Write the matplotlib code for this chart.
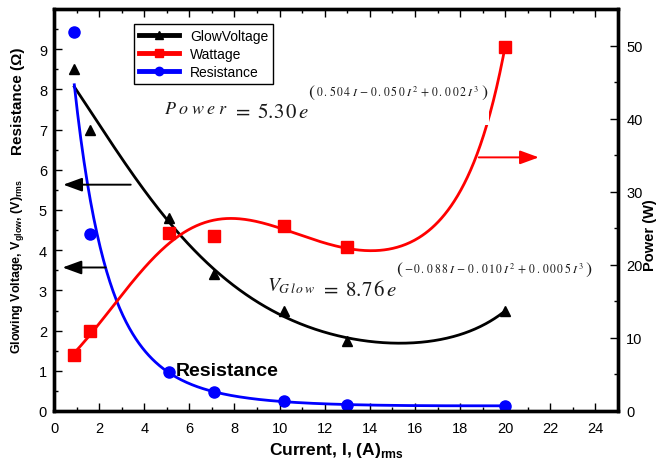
import numpy as np
import matplotlib
matplotlib.use("Agg")
import matplotlib.pyplot as plt
from matplotlib.lines import Line2D
from matplotlib.patches import Rectangle
from matplotlib.ticker import MultipleLocator

plt.rcParams['font.family'] = ['Liberation Sans', 'DejaVu Sans']

# Measured values
current = [0.9, 1.6, 5.1, 7.1, 10.2, 13.0, 20.0]          # A rms
glow_voltage = [8.5, 7.0, 4.8, 3.4, 2.5, 1.75, 2.5]        # V rms
wattage = [7.6, 10.9, 24.4, 23.9, 25.3, 22.5, 49.8]        # W
resistance = [9.42, 4.40, 0.96, 0.48, 0.25, 0.15, 0.13]    # Ohm

series_names = ['GlowVoltage', 'Wattage', 'Resistance']
x_ticks = list(range(0, 25, 2))
left_ticks = list(range(0, 10))
right_ticks = list(range(0, 51, 10))

I = np.asarray(current)
V = np.asarray(glow_voltage)
P = np.asarray(wattage)
R = np.asarray(resistance)

# exponential-polynomial trend lines: y = exp(c0 + c1 I + c2 I^2 + c3 I^3)
def exp_poly_fit(x, y):
    return np.polyfit(x, np.log(y), 3)

Ifit = np.linspace(I.min(), I.max(), 400)
Vfit = np.exp(np.polyval(exp_poly_fit(I, V), Ifit))
Pfit = np.exp(np.polyval(exp_poly_fit(I, P), Ifit))
Rfit = np.exp(np.polyval(exp_poly_fit(I, R), Ifit))

fig = plt.figure(figsize=(6.65, 4.6), dpi=100)
ax = fig.add_axes([54 / 665, 48 / 460, 564 / 665, 402 / 460])
ax2 = ax.twinx()

ax.set_xlim(0, 25)
ax.set_ylim(0, 10)
ax2.set_ylim(0, 55)

lw_curve = 2.0
ax.plot(Ifit, Vfit, color='black', lw=lw_curve, zorder=3)
ax.plot(I, V, ls='none', marker='^', ms=7.5, color='black', zorder=4)
ax.plot(Ifit, Rfit, color='#0000ff', lw=lw_curve, zorder=3)
ax.plot(I, R, ls='none', marker='o', ms=8, color='#0000ff', zorder=4)
ax2.plot(Ifit, Pfit, color='#ff0000', lw=lw_curve, zorder=3)
ax2.plot(I, P, ls='none', marker='s', ms=8, color='#ff0000', zorder=4)

# axes styling
for a in (ax, ax2):
    for s in a.spines.values():
        s.set_linewidth(2.4)
ax.set_xticks(x_ticks)
ax.xaxis.set_minor_locator(MultipleLocator(1))
ax.set_yticks(left_ticks)
ax.yaxis.set_minor_locator(MultipleLocator(0.5))
ax2.set_yticks(right_ticks)
ax2.yaxis.set_minor_locator(MultipleLocator(5))
ax.tick_params(which='both', direction='in', top=True, labelsize=10.5, width=1)
ax.tick_params(axis='x', which='both', pad=7)
ax.tick_params(axis='y', which='both', pad=5)
ax.tick_params(which='major', length=6)
ax.tick_params(which='minor', length=3)
ax2.tick_params(which='both', direction='in', labelsize=10.5, width=1, pad=6)
ax2.tick_params(which='major', length=6)
ax2.tick_params(which='minor', length=3)

ax.set_xlabel(r'Current, I, (A)$_{\mathregular{rms}}$', fontsize=12.5,
              fontweight='bold', labelpad=4)
fig.text(18 / 665, 1 - 101 / 460, 'Resistance (\u03a9)', rotation=90,
         ha='center', va='center', fontsize=11, fontweight='bold')
fig.text(18 / 665, 1 - 266 / 460,
         r'Glowing Voltage, V$_{\mathregular{glow}}$, (V)$_{\mathregular{rms}}$',
         rotation=90, ha='center', va='center', fontsize=9, fontweight='bold')
fig.text(650 / 665, 1 - 235 / 460, 'Power (W)', rotation=90,
         ha='center', va='center', fontsize=10.5, fontweight='bold')

# legend
handles = [
    Line2D([], [], color='black', lw=3.5, marker='^', ms=6),
    Line2D([], [], color='#ff0000', lw=3.5, marker='s', ms=6),
    Line2D([], [], color='#0000ff', lw=3.5, marker='o', ms=6),
]
leg = ax2.legend(handles, series_names, loc='upper left',
                 bbox_to_anchor=(0.142, 0.963), borderaxespad=0,
                 fontsize=10, handlelength=2.9, labelspacing=0.3,
                 fancybox=False, framealpha=1, edgecolor='black',
                 borderpad=0.35, handletextpad=0.8)
leg.get_frame().set_linewidth(1.0)
leg.set_zorder(10)

# trend-line equations, built from pieces: lhs, coefficient, (exponent)
EQ_COLOR = '#1a1a1a'


def equation(lhs, lhs_size, coef, expo, x, y):
    common = dict(math_fontfamily='stix', ha='left', zorder=7, color=EQ_COLOR)
    t1 = ax2.text(x, y, lhs, transform=ax.transData, fontsize=lhs_size,
                  va='baseline', **common)
    t2 = ax2.annotate(coef, xy=(1, 0), xycoords=t1, xytext=(0, 0),
                      textcoords='offset points', fontsize=15,
                      va='baseline', **common)
    lp = ax2.annotate(r'$($', xy=(1, 1), xycoords=t2, xytext=(-1.5, 1),
                      textcoords='offset points', fontsize=13,
                      va='bottom', **common)
    body = ax2.annotate(expo, xy=(1, 0.26), xycoords=lp, xytext=(0.5, 0),
                        textcoords='offset points', fontsize=8.5,
                        va='baseline', **common)
    rp = ax2.annotate(r'$)$', xy=(1, 0), xycoords=(body, lp),
                      xytext=(1, 0), textcoords='offset points',
                      fontsize=13, va='bottom', **common)
    return [t1, t2, lp, body, rp]


power_eq = equation(
    r'$P\;o\;w\;e\;r$', 13, r'$\ =\ 5.3\,0\,e$',
    r'$0\,.\,5\,0\,4\;I\,-\,0\,.\,0\,5\,0\;I^{\,2}\,+\,0\,.\,0\,0\,2\;I^{\,3}$',
    4.86, 7.41)
equation(
    r'$V_{G\,l\,o\,w}$', 14, r'$\ =\ 8.7\,6\,e$',
    r'$-\,0\,.\,0\,8\,8\;I\,-\,0\,.\,0\,1\,0\;I^{\,2}\,+\,0\,.\,0\,0\,0\,5\;I^{\,3}$',
    9.45, 3.0)

# white backing behind the power equation
fig.canvas.draw()
ext = [t.get_window_extent() for t in power_eq]
x0 = min(b.x0 for b in ext) - 4
y0 = min(b.y0 for b in ext) - 4
x1 = max(b.x1 for b in ext) + 1
y1 = max(b.y1 for b in ext) + 2
ax2.add_patch(Rectangle((x0, y0), x1 - x0, y1 - y0, transform=None,
                        facecolor='white', edgecolor='none', zorder=6))

ax2.text(5.4, 0.9, 'Resistance', transform=ax.transData, fontsize=14,
         fontweight='bold', va='baseline', ha='left', zorder=7)

# arrows pointing at the matching axes
arrow_kw = dict(arrowstyle='-|>,head_length=1.15,head_width=0.42',
                mutation_scale=10, lw=1.4, shrinkA=0, shrinkB=0)
ax2.annotate('', xy=(0.41, 5.63), xytext=(3.40, 5.63), xycoords=ax.transData,
             textcoords=ax.transData, arrowprops=dict(color='black', **arrow_kw))
ax2.annotate('', xy=(0.38, 3.57), xytext=(2.29, 3.57), xycoords=ax.transData,
             textcoords=ax.transData, arrowprops=dict(color='black', **arrow_kw))
ax2.annotate('', xy=(21.49, 34.7), xytext=(18.83, 34.7),
             arrowprops=dict(color='#ff0000', **arrow_kw))

fig.savefig('out.png', dpi=100)
